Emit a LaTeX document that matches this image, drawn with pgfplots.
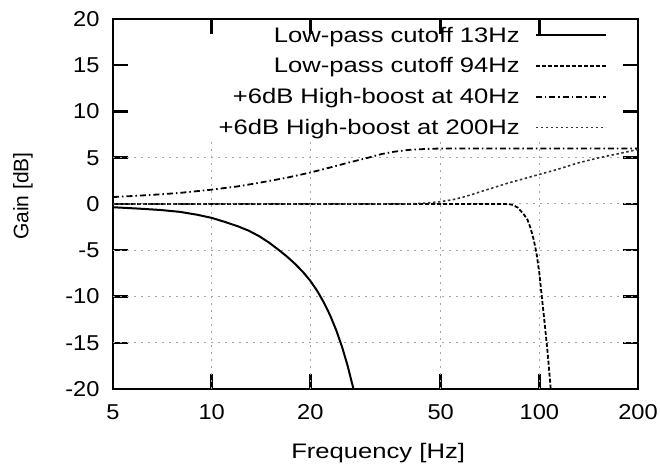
\documentclass[border=0pt]{standalone}
\usepackage{fontspec}
\setmainfont{Liberation Sans}
\usepackage{pgfplots}
\pgfplotsset{compat=1.18}
\newcommand\tlx[1]{\scalebox{1.1}[1]{#1}}
\newcommand\lgx[1]{\scalebox{1.22}[1]{#1}}
\begin{document}
\begin{tikzpicture}
\useasboundingbox (-113bp,-81bp) rectangle (547bp,389bp);
\begin{axis}[
  at={(0,0)}, anchor=south west,
  scale only axis, width=525bp, height=370bp,
  xmode=log, xmin=5, xmax=200, ymin=-20, ymax=20,
  xtick={5,10,20,50,100,200},
  xticklabels={\tlx{5},\tlx{10},\tlx{20},\tlx{50},\tlx{100},\tlx{200}},
  xminorticks=false,
  ytick={-20,-15,-10,-5,0,5,10,15,20},
  yticklabels={\tlx{-20},\tlx{-15},\tlx{-10},\tlx{-5},\tlx{0},\tlx{5},\tlx{10},\tlx{15},\tlx{20}},
  tick align=inside, major tick length=15bp,
  every tick/.style={black, line width=2.5bp},
  axis line style={line width=2.5bp},
  ticklabel style={font=\fontsize{21.5bp}{25bp}\selectfont},
  xticklabel style={yshift=-12bp},
  yticklabel style={xshift=-10bp},
  xlabel={\fontsize{21bp}{25bp}\selectfont\lgx{Frequency [Hz]}},
  ylabel={\fontsize{21bp}{25bp}\selectfont Gain [dB]},
  xlabel style={at={(axis description cs:0.505,-0.1865)}, anchor=base},
  ylabel style={at={(axis description cs:-0.1714,0.5216)}, anchor=center},
  legend plot pos=right,
  legend cell align=right,
  legend image code/.code={\draw[#1] (0bp,0bp) -- (70bp,0bp);},
  legend style={at={(rel axis cs:0.941,0.984)}, anchor=north east,
    draw=none, fill=none, inner sep=0pt, row sep=10bp,
    font=\fontsize{21bp}{25bp}\selectfont,
    /tikz/every odd column/.append style={column sep=13bp}},
  gridl/.style={gray!70, line width=1bp, dash pattern=on 2bp off 5bp, forget plot},
]
% grid lines (hidden behind the key area in the original)
\addplot[gridl] coordinates {(5,-15) (200,-15)};
\addplot[gridl] coordinates {(5,-10) (200,-10)};
\addplot[gridl] coordinates {(5,-5) (200,-5)};
\addplot[gridl] coordinates {(5,0) (200,0)};
\addplot[gridl] coordinates {(5,5) (200,5)};
\addplot[gridl] coordinates {(10,-20) (10,7.24)};
\addplot[gridl] coordinates {(20,-20) (20,7.24)};
\addplot[gridl] coordinates {(50,-20) (50,7.24)};
\addplot[gridl] coordinates {(100,-20) (100,7.24)};

\addplot[black, line width=2bp] coordinates {
(5,-0.35) (6,-0.5) (7,-0.65) (8,-0.85) (9,-1.15) (10,-1.5) (11,-1.95) (12,-2.4)
(13,-2.9) (14,-3.5) (15,-4.2) (16,-4.95) (17,-5.7) (18,-6.5) (19,-7.35) (20,-8.3)
(21,-9.4) (22,-10.65) (23,-12.05) (24,-13.65) (25,-15.45) (26,-17.5) (27,-19.8) (27.1,-20)
};
\addlegendentry{\lgx{Low-pass cutoff 13Hz}}

\addplot[black, line width=1.8bp, dash pattern=on 4bp off 2bp] coordinates {
(5,0) (80,0) (82,-0.05) (84,-0.2) (86,-0.4) (88,-0.8) (90,-1.2) (92,-1.7) (94,-2.6)
(96,-3.8) (98,-5.3) (100,-7.5) (102,-10.4) (104,-13.2) (106,-16.1) (108.3,-20)
};
\addlegendentry{\lgx{Low-pass cutoff 94Hz}}

\addplot[black, line width=1.8bp, dash pattern=on 6bp off 3bp on 1.5bp off 3bp] coordinates {
(5,0.75) (6,0.9) (7,1.05) (8,1.2) (10,1.55) (12,1.9) (14,2.3) (17,2.85) (20,3.4)
(23,3.95) (26,4.45) (30,5.0) (33,5.4) (36,5.65) (40,5.85) (45,5.95) (50,6.0) (60,6.0) (200,6.0)
};
\addlegendentry{\lgx{+6dB High-boost at 40Hz}}

\addplot[black!80, line width=1.6bp, dash pattern=on 2.5bp off 2.5bp] coordinates {
(5,0) (40,0.02) (45,0.1) (50,0.25) (55,0.5) (60,0.85) (70,1.6) (80,2.25) (90,2.75)
(100,3.2) (115,3.8) (130,4.4) (150,4.95) (175,5.45) (200,5.9)
};
\addlegendentry{\lgx{+6dB High-boost at 200Hz}}
\end{axis}
\end{tikzpicture}
\end{document}
